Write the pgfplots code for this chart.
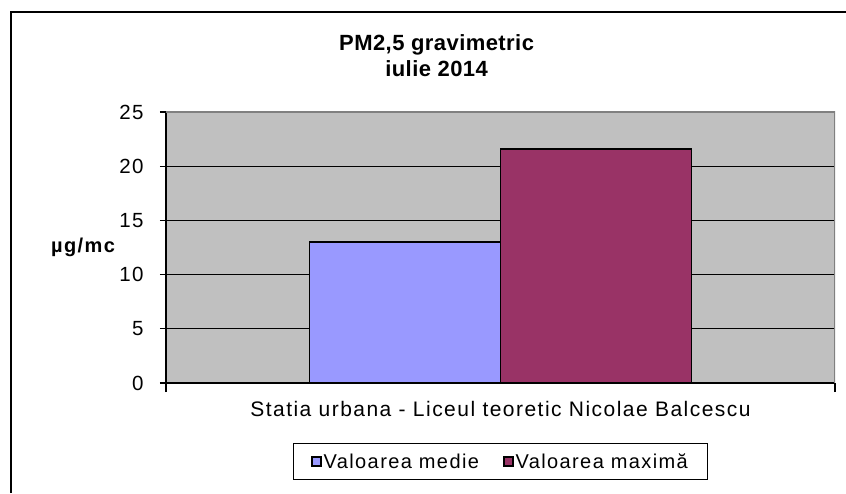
\documentclass[border=0pt]{standalone}
\usepackage{fontspec}
\setmainfont{Liberation Sans}[LetterSpace=7]
\usepackage{pgfplots}
\pgfplotsset{compat=1.18}
\definecolor{medie}{HTML}{9999FF}
\definecolor{maxima}{HTML}{993366}
\definecolor{plotbg}{HTML}{C0C0C0}
\definecolor{plotedge}{HTML}{808080}

\begin{document}
\begin{tikzpicture}[x=1pt,y=1pt]
\path[use as bounding box] (0,0) rectangle (846,493);
% chart frame (only top and left visible in the reference)
\draw[line width=2pt] (11,0) -- (11,481) -- (846,481);
\begin{axis}[
    at={(166pt,110pt)}, anchor=south west,
    scale only axis, width=669pt, height=271pt,
    ybar=0pt, bar width=191pt,
    xmin=-1, xmax=1, ymin=0, ymax=25,
    enlargelimits=false,
    xtick={-1,1}, xticklabels={},
    ytick={0,5,...,25},
    separate axis lines,
    axis x line*=bottom, axis y line*=left,
    axis line style={-, line width=1.5pt, black},
    axis background/.style={fill=plotbg},
    tick align=outside,
    tick style={black, line width=1.2pt},
    xtick style={/pgfplots/major tick length=9pt},
    ytick style={/pgfplots/major tick length=6pt},
    ymajorgrids, grid style={black, line width=1.2pt},
    /pgf/number format/assume math mode=true,
    yticklabel style={font=\fontsize{20.5}{24}\selectfont, inner sep=0pt, xshift=-18pt},
    title={PM2,5 gravimetric\\iulie 2014},
    title style={at={(axis description cs:0.4045,1.265)}, anchor=north, align=center,
        font=\fontsize{22}{26.5}\selectfont\bfseries\addfontfeatures{LetterSpace=2}, inner sep=0pt},
    xlabel={Statia urbana - Liceul teoretic Nicolae Balcescu},
    xlabel style={at={(axis description cs:0.5,-0.1244)}, anchor=base,
        font=\fontsize{21}{25}\selectfont, inner sep=0pt},
    ylabel={µg/mc},
    ylabel style={at={(axis description cs:-0.124,0.5)}, rotate=-90, anchor=center,
        font=\fontsize{20}{24}\selectfont\bfseries, inner sep=0pt},
    legend columns=2,
    legend style={at={(axis description cs:0.5,-0.2897)}, anchor=center,
        draw=black, line width=1pt, font=\fontsize{20}{24}\selectfont,
        inner xsep=18pt, inner ysep=8pt,
        nodes={inner sep=2pt},
        /tikz/every even column/.append style={column sep=22pt}},
    legend image code/.code={\draw[#1, draw=black, line width=1.5pt] (0pt,-4.5pt) rectangle (9pt,4.5pt);},
]
\addplot[fill=medie, draw=black, line width=1.5pt] coordinates {(0,13.0)};
\addplot[fill=maxima, draw=black, line width=1.5pt] coordinates {(0,21.6)};
% grey plot-area edge on top and right
\draw[plotedge, line width=3pt] (rel axis cs:0,1) -- (rel axis cs:1,1) -- (rel axis cs:1,0);
\legend{Valoarea medie, Valoarea maximă}
\end{axis}
\end{tikzpicture}
\end{document}
